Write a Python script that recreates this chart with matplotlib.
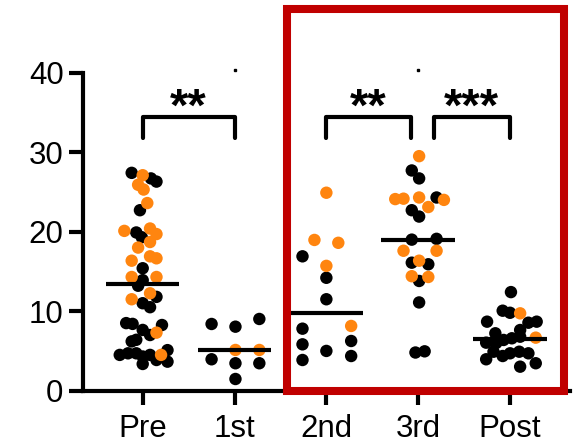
import matplotlib
matplotlib.use('Agg')
import matplotlib.pyplot as plt
from matplotlib.patches import Rectangle

plt.rcParams['font.family'] = ['Liberation Sans', 'DejaVu Sans']

# groups and their points (value, x offset inside the swarm, colour flag: 1 = orange)
groups = ['Pre', '1st', '2nd', '3rd', 'Post']

pre_y = [27.4, 27.1, 26.7, 26.3, 25.9, 25.3, 23.6, 22.7, 20.1, 19.9, 19.3, 20.4, 19.7, 18.7,
         18.0, 16.9, 16.65, 16.35, 15.4, 14.3, 14.3, 13.9, 13.2, 12.25, 11.8, 11.5, 11.0, 10.5,
         8.5, 8.4, 7.64, 8.26, 7.3, 7.0, 6.2, 6.4, 4.5, 4.7, 4.7, 4.3, 4.5, 3.86, 5.1, 4.5,
         3.36, 3.65]
pre_dx = [-0.12, 0.0, 0.09, 0.15, -0.05, 0.01, 0.05, -0.03, -0.2, -0.07, -0.01, 0.08, 0.15, 0.08,
          -0.05, 0.08, 0.15, -0.12, 0.0, -0.12, 0.15, 0.0, -0.05, 0.08, 0.15, -0.12, 0.0, 0.08,
          -0.18, -0.11, 0.0, 0.21, 0.15, 0.08, -0.12, -0.07, -0.25, -0.16, -0.07, 0.0, 0.08, 0.15,
          0.27, 0.2, 0.0, 0.27]
pre_c = [0, 1, 0, 0, 1, 1, 1, 0, 1, 0, 0, 1, 1, 1,
         1, 1, 1, 1, 0, 1, 1, 0, 0, 1, 0, 1, 0, 0,
         0, 0, 0, 0, 1, 0, 0, 0, 0, 0, 0, 0, 0, 0, 0, 1,
         0, 0]

first_y = [8.39, 8.05, 9.02, 5.12, 5.12, 3.95, 3.45, 3.45, 1.47]
first_dx = [-0.25, 0.01, 0.27, 0.01, 0.27, -0.25, 0.01, 0.27, 0.01]
first_c = [0, 0, 0, 1, 1, 0, 0, 0, 0]

second_y = [24.9, 18.96, 18.6, 16.9, 15.7, 14.2, 11.5, 8.14, 7.8, 6.25, 5.83, 5.0, 3.86, 4.36]
second_dx = [0.0, -0.13, 0.13, -0.26, 0.0, 0.0, 0.0, 0.27, -0.26, 0.27, -0.26, 0.0, -0.26, 0.27]
second_c = [1, 1, 1, 0, 1, 0, 0, 1, 0, 0, 0, 0, 0, 0]

third_y = [29.5, 27.7, 26.7, 24.1, 24.15, 24.3, 24.3, 24.0, 23.1, 22.7, 21.9, 19.0, 19.1, 17.6,
           17.6, 16.1, 15.9, 16.35, 14.4, 14.3, 13.8, 11.1, 4.8, 4.95]
third_dx = [0.01, -0.07, 0.01, -0.25, -0.16, 0.01, 0.2, 0.28, 0.11, -0.07, 0.01, -0.07, 0.2, -0.16,
            0.2, -0.07, 0.11, 0.01, -0.07, 0.11, 0.01, 0.01, -0.03, 0.07]
third_c = [1, 0, 0, 1, 1, 1, 0, 1, 1, 0, 0, 0, 0, 1,
           1, 0, 0, 1, 1, 1, 0, 0, 0, 0]

post_y = [12.4, 10.06, 9.8, 9.73, 8.68, 8.55, 8.68, 7.22, 7.63, 6.04, 6.38, 6.59, 6.79, 6.67,
          4.9, 4.36, 4.7, 4.9, 4.7, 3.95, 3.02, 3.45, 6.0]
post_dx = [0.01, -0.08, 0.0, 0.11, -0.25, 0.2, 0.29, -0.16, 0.11, -0.26, -0.07, 0.02, 0.11, 0.28,
           -0.18, -0.08, 0.0, 0.1, 0.2, -0.26, 0.11, 0.28, -0.15]
post_c = [0, 0, 0, 1, 0, 0, 0, 0, 0, 0, 0, 0, 0, 1,
          0, 0, 0, 0, 0, 0, 0, 0, 0]

medians = [13.4, 5.1, 9.8, 19.0, 6.5]

# significance brackets: (left group, right group, text)
brackets = [(0, 1, '**'), (2, 3, '**'), (3, 4, '***')]

all_y = [pre_y, first_y, second_y, third_y, post_y]
all_dx = [pre_dx, first_dx, second_dx, third_dx, post_dx]
all_c = [pre_c, first_c, second_c, third_c, post_c]

black = '#000000'
orange = '#FF850F'

fig = plt.figure(figsize=(5.85, 4.47), dpi=100)
ax = fig.add_axes([0.1419, 0.126, 0.832, 0.7114])

for i in range(len(groups)):
    for flag, col, z in [(0, black, 3), (1, orange, 4)]:
        xs = [i + d for d, c in zip(all_dx[i], all_c[i]) if c == flag]
        ys = [v for v, c in zip(all_y[i], all_c[i]) if c == flag]
        ax.scatter(xs, ys, s=80, color=col, edgecolors='none', zorder=z, clip_on=False)
    ax.plot([i - 0.4, i + 0.4], [medians[i], medians[i]], color='black', lw=3, zorder=5,
            solid_capstyle='butt')

# brackets and stars above the axes
for a, b, txt in brackets:
    xa = a + (0.17 if a == 3 else 0.0)
    xb = b - (0.08 if a == 2 else 0.0)
    ax.plot([xa, xa, xb, xb], [31.8, 34.4, 34.4, 31.8], color='black', lw=3,
            clip_on=False, solid_joinstyle='round', solid_capstyle='round')
    ax.text((xa + xb) / 2, 34.0, txt, ha='center', va='baseline', fontsize=34,
            fontweight='bold', clip_on=False)

# tiny marks at the top of groups 1st and 3rd
ax.plot([1, 3], [40.3, 40.3], linestyle='none', marker='s', markersize=1.5, color='black',
        clip_on=False)

ax.set_xlim(-0.65, 4.65)
ax.set_ylim(0, 40)
ax.set_yticks([0, 10, 20, 30, 40])
ax.set_xticks(range(len(groups)))
ax.set_xticklabels(groups)
for s in ['top', 'right']:
    ax.spines[s].set_visible(False)
for s in ['left', 'bottom']:
    ax.spines[s].set_linewidth(3)
ax.tick_params(axis='both', width=3, length=10, labelsize=22.5)
ax.tick_params(axis='y', pad=4)
ax.tick_params(axis='x', pad=7)

# red frame around 2nd..Post
fig.patches.append(Rectangle((0.4906, 0.1253), 0.4735, 0.8546, transform=fig.transFigure,
                             fill=False, edgecolor='#C00000', lw=5.8, zorder=10))

fig.savefig('out.png', dpi=100)
